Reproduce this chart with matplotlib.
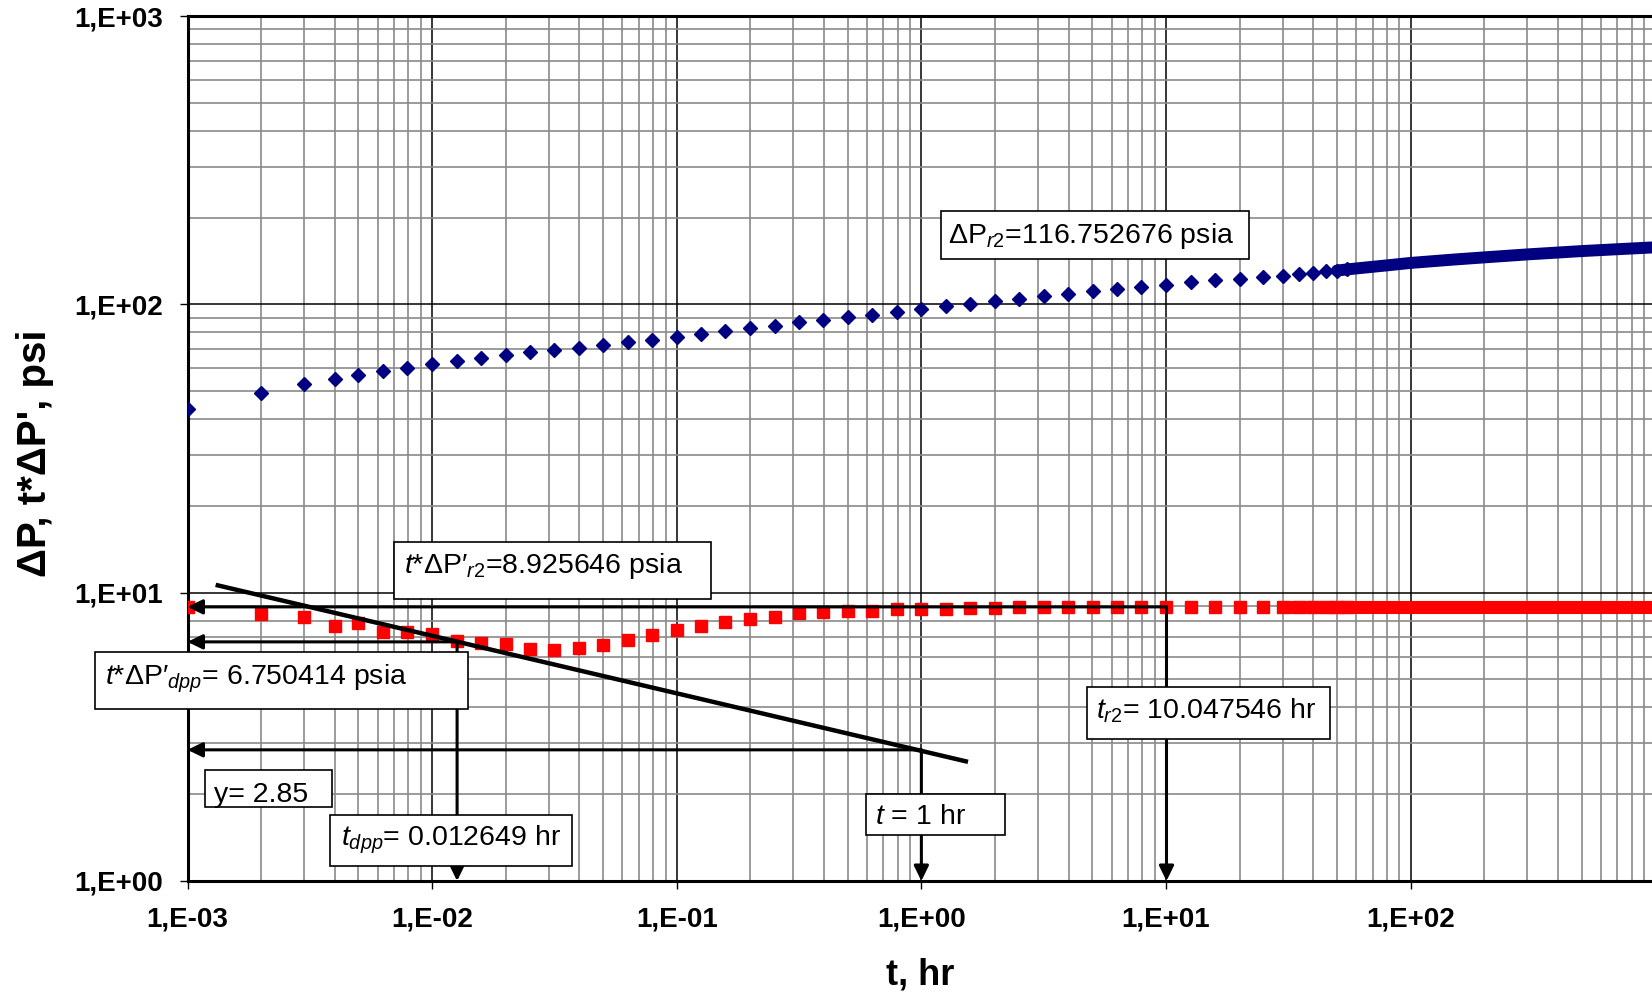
import math
import matplotlib
matplotlib.use('Agg')
import matplotlib.pyplot as plt
from matplotlib.patches import Rectangle
from matplotlib.ticker import LogLocator, NullFormatter

plt.rcParams['font.family'] = ['Liberation Sans', 'DejaVu Sans']
plt.rcParams['mathtext.fontset'] = 'custom'
plt.rcParams['mathtext.rm'] = 'Liberation Sans'
plt.rcParams['mathtext.it'] = 'Liberation Sans:italic'
plt.rcParams['mathtext.bf'] = 'Liberation Sans:bold'

# time, hr
t = [0.001, 0.002, 0.003, 0.004, 0.005, 0.0063, 0.0079, 0.01, 0.0126, 0.0158,
     0.02, 0.0251, 0.0316, 0.0398, 0.0501, 0.0631, 0.0794, 0.1, 0.126, 0.158,
     0.2, 0.251, 0.316, 0.398, 0.501, 0.631, 0.794, 1.0, 1.26, 1.58,
     2.0, 2.51, 3.16, 3.98, 5.01, 6.31, 7.94, 10.0, 12.6, 15.8,
     20, 25, 30, 35, 40, 45, 50, 55]

# pressure drop, psi
dp = [43.4, 49.4, 52.8, 55.1, 56.9, 58.7, 60.1, 61.9, 63.8, 65.0,
      66.6, 68.2, 69.5, 70.8, 72.3, 74.1, 75.4, 77.1, 78.8, 80.9,
      82.6, 84.4, 86.7, 88.3, 90.2, 92.1, 94.3, 96.4, 98.5, 100.3,
      102.5, 104.7, 106.9, 108.9, 111.0, 112.8, 114.9, 116.8, 119.3, 121.2,
      122.7, 124.7, 125.7, 127.8, 128.8, 130.2, 131.0, 132.3]

# pressure derivative t*dP', psi
tdp = [8.94, 8.44, 8.22, 7.68, 7.83, 7.32, 7.32, 7.19, 6.80, 6.71,
       6.62, 6.38, 6.33, 6.41, 6.58, 6.85, 7.13, 7.42, 7.68, 7.88,
       8.08, 8.26, 8.48, 8.55, 8.64, 8.67, 8.78, 8.78, 8.80, 8.83,
       8.87, 8.90, 8.90, 8.91, 8.91, 8.92, 8.92, 8.92, 8.92, 8.93,
       8.93, 8.93, 8.93, 8.93, 8.93, 8.93, 8.93, 8.93]

# late time: points so close they merge into a band
t_tail = [50, 60, 80, 100, 150, 200, 300, 500, 700, 970]
dp_tail = [131.0, 133.2, 136.5, 139.2, 143.0, 145.5, 149.0, 153.0, 155.3, 157.5]
tdp_tail_t = [30, 970]
tdp_tail = [8.93, 8.93]

# characteristic points
t_dpp, tdp_dpp = 0.012649, 6.750414
t_r2, tdp_r2, dp_r2 = 10.047546, 8.925646, 116.752676
t_1hr, y_1hr = 1.0, 2.85

# slope line through the dual porosity minimum
line_t = [1.33e-3, 1.52]
line_y = [10.6, 2.6]

x_ticks = [1e-3, 1e-2, 1e-1, 1e0, 1e1, 1e2]
y_ticks = [1e0, 1e1, 1e2, 1e3]


def sci_label(v):
    e = int(round(math.log10(v)))
    return f"1,E{e:+03d}"


fig = plt.figure(figsize=(16.52, 10.01), dpi=100)
ax = fig.add_axes([0.1135, 0.1199, 0.8865, 0.8641])

ax.plot(t_tail, dp_tail, '-', color='#000080', lw=8.6, solid_capstyle='round', zorder=3)
ax.plot(t, dp, 'D', color='#000080', ms=6.8, zorder=3)
ax.plot(tdp_tail_t, tdp_tail, '-', color='#ff0000', lw=9.4, solid_capstyle='butt', zorder=3)
ax.plot(t, tdp, 's', color='#ff0000', ms=9.3, zorder=3)

ax.plot(line_t, line_y, '-', color='black', lw=3.2, zorder=5)

ax.set_xscale('log')
ax.set_yscale('log')
ax.set_xlim(1e-3, 970)
ax.set_ylim(1, 1000)

ax.set_xticks(x_ticks, [sci_label(v) for v in x_ticks], fontsize=20, fontweight='bold')
ax.set_yticks(y_ticks, [sci_label(v) for v in y_ticks], fontsize=20, fontweight='bold')
ax.xaxis.set_minor_locator(LogLocator(base=10, subs=range(2, 10), numticks=20))
ax.yaxis.set_minor_locator(LogLocator(base=10, subs=range(2, 10), numticks=20))
ax.xaxis.set_minor_formatter(NullFormatter())
ax.yaxis.set_minor_formatter(NullFormatter())
ax.tick_params(axis='x', which='major', direction='out', length=5.5, width=1, pad=13)
ax.tick_params(axis='y', which='major', direction='out', length=5.5, width=1, pad=12)
ax.tick_params(which='minor', length=0)

ax.set_axisbelow(True)
ax.grid(which='minor', color='#8a8a8a', lw=1.2)
ax.grid(which='major', color='black', lw=1.1)

for side in ['left', 'top', 'bottom']:
    ax.spines[side].set_linewidth(2.2)
ax.spines['right'].set_visible(False)

ax.set_xlabel('t, hr', fontsize=26, fontweight='bold')
ax.xaxis.set_label_coords(0.5, -0.088)
ax.set_ylabel("ΔP, t*ΔP', psi", fontsize=29, fontweight='bold')
ax.yaxis.set_label_coords(-0.091, 0.495)


def arrow(x0, y0, x1, y1):
    ax.annotate('', xy=(x1, y1), xytext=(x0, y0),
                arrowprops=dict(arrowstyle='-|>,head_length=0.45,head_width=0.22',
                                color='black', lw=2.2, shrinkA=0, shrinkB=0,
                                mutation_scale=20),
                zorder=4, annotation_clip=False)


# projections of the characteristic points onto the axes
arrow(t_r2, tdp_r2, 1e-3, tdp_r2)
arrow(t_r2, tdp_r2, t_r2, 1)
arrow(t_dpp, tdp_dpp, 1e-3, tdp_dpp)
arrow(t_dpp, tdp_dpp, t_dpp, 1)
arrow(t_1hr, y_1hr, 1e-3, y_1hr)
arrow(t_1hr, y_1hr, t_1hr, 1)


def label_box(x0, y0, x1, y1, tx, ty, s):
    ax.add_patch(Rectangle((x0, y0), x1 - x0, y1 - y0, transform=ax.transAxes,
                           facecolor='white', edgecolor='black', lw=1.2,
                           clip_on=False, zorder=6))
    ax.text(tx, ty, s, transform=ax.transAxes, fontsize=20.5, ha='left',
            va='baseline', zorder=7, clip_on=False)


label_box(0.5145, 0.7196, 0.7248, 0.7749, 0.5193, 0.7372,
          f"ΔP$_{{\\mathit{{r2}}}}$={dp_r2:.6f} psia")
label_box(0.1410, 0.3264, 0.3573, 0.3923, 0.1477, 0.3561,
          f"$\\mathit{{t}}$*ΔP′$_{{\\mathit{{r2}}}}$={tdp_r2:.6f} psia")
label_box(-0.0632, 0.1988, 0.1915, 0.2651, -0.0563, 0.2277,
          f"$\\mathit{{t}}$*ΔP′$_{{\\mathit{{dpp}}}}$= {tdp_dpp:.6f} psia")
label_box(0.0117, 0.0859, 0.0988, 0.1283, 0.0178, 0.0917,
          f"y= {y_1hr:.2f}")
label_box(0.0973, 0.0173, 0.2626, 0.0760, 0.1045, 0.0405,
          f"$\\mathit{{t}}_{{\\mathit{{dpp}}}}$= {t_dpp:.6f} hr")
label_box(0.4631, 0.0532, 0.5580, 0.1006, 0.4697, 0.0659,
          f"$\\mathit{{t}}$ = {t_1hr:.0f} hr")
label_box(0.6143, 0.1637, 0.7803, 0.2239, 0.6204, 0.1881,
          f"$\\mathit{{t}}_{{\\mathit{{r2}}}}$= {t_r2:.6f} hr")

fig.savefig('out.png', dpi=100)
